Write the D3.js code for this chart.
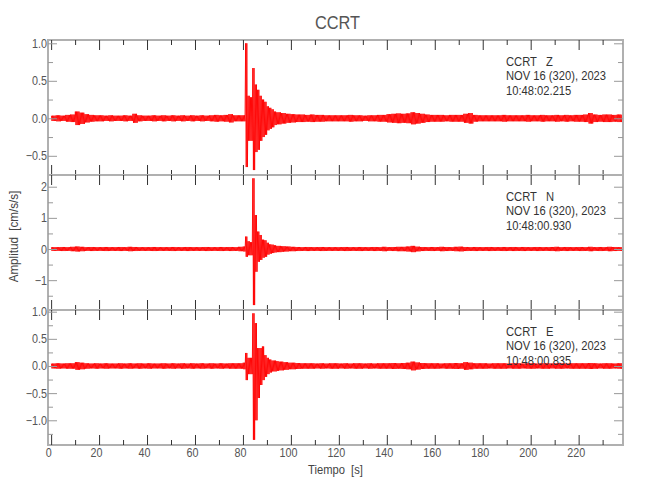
<!DOCTYPE html>
<html><head><meta charset="utf-8">
<script src="https://cdn.jsdelivr.net/npm/d3@7"></script>
<style>
body{margin:0;background:#fff}
svg{display:block}
text{font-family:"Liberation Sans",Arial,sans-serif}
</style>
</head><body>
<svg id="chart" width="650" height="500"></svg>
<script>
// ---------------- data ----------------
const title = "CCRT";
const station = "CCRT";
const xLabel = "Tiempo  [s]";
const yLabel = "Amplitud  [cm/s/s]";
const components = ["Z", "N", "E"];
const dateLabel = "NOV 16 (320), 2023";
const startTimes = ["10:48:02.215", "10:48:00.930", "10:48:00.835"];

const xDomain = [-1.3, 238.5];
const xMajorTicks = [0, 20, 40, 60, 80, 100, 120, 140, 160, 180, 200, 220];
const xMinorTicks = [10, 30, 50, 70, 90, 110, 130, 150, 170, 190, 210, 230];

const zDomain = [-0.756, 1.044];
const nDomain = [-1.958, 2.376];
const eDomain = [-1.455, 1.031];
const zMajor = [-0.5, 0, 0.5, 1.0];
const zMinor = [-0.75, -0.25, 0.25, 0.75];
const zLabels = ["\u22120.5", "0.0", "0.5", "1.0"];
const nMajor = [-1, 0, 1, 2];
const nMinor = [-1.5, -0.5, 0.5, 1.5];
const nLabels = ["\u22121", "0", "1", "2"];
const eMajor = [-1.0, -0.5, 0, 0.5, 1.0];
const eMinor = [-1.25, -0.75, -0.25, 0.25, 0.75];
const eLabels = ["\u22121.0", "\u22120.5", "0.0", "0.5", "1.0"];

// background noise envelope (peak amplitude), one value per 2-second bin, 0..240 s
const zNoise = [
 0.035,0.04,0.035,0.045,0.05,0.09,0.075,0.055,0.045,0.04,
 0.04,0.035,0.04,0.035,0.035,0.04,0.035,0.06,0.04,0.035,
 0.035,0.04,0.035,0.04,0.035,0.04,0.035,0.04,0.035,0.04,
 0.035,0.04,0.035,0.04,0.045,0.04,0.045,0.055,0.04,0.04,
 0.04,0.04,0.04,0.04,0.04,0.04,0.04,0.04,0.04,0.04,
 0.055,0.05,0.05,0.045,0.05,0.045,0.045,0.04,0.04,0.04,
 0.04,0.04,0.045,0.04,0.04,0.035,0.04,0.04,0.045,0.045,
 0.055,0.06,0.065,0.06,0.065,0.08,0.07,0.06,0.05,0.045,
 0.045,0.045,0.04,0.045,0.045,0.045,0.06,0.07,0.045,0.04,
 0.04,0.04,0.04,0.04,0.045,0.04,0.04,0.04,0.04,0.045,
 0.04,0.04,0.045,0.04,0.04,0.045,0.04,0.045,0.04,0.045,
 0.045,0.05,0.07,0.05,0.045,0.05,0.05,0.045,0.05,0.045];
const nNoise = [
 0.06,0.06,0.065,0.06,0.07,0.08,0.07,0.06,0.065,0.06,
 0.06,0.065,0.06,0.06,0.065,0.06,0.07,0.065,0.06,0.06,
 0.06,0.065,0.06,0.06,0.06,0.065,0.06,0.06,0.065,0.06,
 0.06,0.06,0.065,0.06,0.06,0.065,0.06,0.065,0.06,0.07,
 0.07,0.07,0.07,0.07,0.07,0.07,0.07,0.07,0.07,0.07,
 0.07,0.065,0.06,0.065,0.06,0.06,0.065,0.06,0.06,0.06,
 0.06,0.065,0.06,0.06,0.065,0.06,0.06,0.065,0.06,0.07,
 0.06,0.065,0.07,0.07,0.08,0.1,0.075,0.065,0.06,0.065,
 0.06,0.07,0.065,0.06,0.07,0.075,0.065,0.06,0.065,0.06,
 0.06,0.065,0.06,0.06,0.065,0.06,0.065,0.06,0.065,0.06,
 0.06,0.065,0.06,0.06,0.065,0.07,0.06,0.065,0.06,0.06,
 0.065,0.06,0.07,0.06,0.065,0.06,0.07,0.065,0.06,0.06];
const eNoise = [
 0.045,0.05,0.045,0.05,0.05,0.07,0.06,0.05,0.045,0.05,
 0.045,0.05,0.045,0.045,0.05,0.045,0.05,0.045,0.05,0.045,
 0.05,0.045,0.045,0.05,0.045,0.05,0.045,0.05,0.045,0.05,
 0.045,0.05,0.045,0.05,0.045,0.05,0.045,0.05,0.05,0.05,
 0.05,0.05,0.05,0.05,0.05,0.05,0.05,0.05,0.05,0.05,
 0.06,0.055,0.05,0.05,0.05,0.045,0.05,0.045,0.05,0.05,
 0.045,0.05,0.045,0.05,0.05,0.045,0.05,0.045,0.05,0.05,
 0.05,0.055,0.05,0.055,0.06,0.08,0.065,0.055,0.05,0.05,
 0.05,0.045,0.05,0.05,0.055,0.05,0.07,0.06,0.05,0.05,
 0.05,0.045,0.05,0.05,0.05,0.045,0.05,0.05,0.045,0.05,
 0.05,0.045,0.05,0.05,0.045,0.05,0.05,0.045,0.05,0.05,
 0.05,0.05,0.055,0.05,0.045,0.05,0.05,0.045,0.05,0.05];

// earthquake arrival, one value per second from t = 80 s (positive peak / negative peak size)
const eventStart = 80;
const zUp = [0.04,1.0,0.3,0.28,0.67,0.45,0.38,0.3,0.25,0.22,0.16,0.14,0.12,0.09,0.08,0.08,0.07,0.07,0.06,0.06];
const zDn = [0.04,0.65,0.3,0.3,0.69,0.45,0.42,0.3,0.25,0.22,0.16,0.14,0.12,0.09,0.08,0.08,0.07,0.07,0.06,0.06];
const nUp = [0.08,0.4,0.25,0.22,2.27,1.09,0.56,0.45,0.3,0.28,0.2,0.15,0.14,0.12,0.1,0.1,0.09,0.09,0.08,0.08];
const nDn = [0.08,0.25,0.2,0.2,1.8,0.73,0.41,0.35,0.28,0.25,0.18,0.15,0.13,0.11,0.1,0.1,0.09,0.08,0.08,0.07];
const eUp = [0.06,0.24,0.15,0.15,0.97,0.79,0.33,0.33,0.36,0.2,0.15,0.12,0.1,0.1,0.09,0.08,0.08,0.07,0.07,0.06];
const eDn = [0.06,0.26,0.15,0.15,1.36,1.0,0.59,0.35,0.26,0.2,0.15,0.12,0.1,0.1,0.09,0.08,0.08,0.07,0.07,0.06];

// ---------------- drawing ----------------
const svg = d3.select("#chart");
const L = 48, R = 623, PH = 135;
const tops = [40, 175, 310];
const condenseF = 0.86;
function condense(sel, f) {
  sel.each(function () {
    const w = this.getComputedTextLength();
    if (w > 0) d3.select(this).attr("textLength", w * f).attr("lengthAdjust", "spacingAndGlyphs");
  });
}

const x = d3.scaleLinear().domain(xDomain).range([L, R]);

const panels = [
  {domain: zDomain, major: zMajor, minor: zMinor, labels: zLabels, noise: zNoise, up: zUp, dn: zDn},
  {domain: nDomain, major: nMajor, minor: nMinor, labels: nLabels, noise: nNoise, up: nUp, dn: nDn},
  {domain: eDomain, major: eMajor, minor: eMinor, labels: eLabels, noise: eNoise, up: eUp, dn: eDn}
];

panels.forEach((p, i) => {
  const top = tops[i], bot = top + PH;
  const y = d3.scaleLinear().domain(p.domain).range([bot, top]);

  // waveform: zig-zag between the positive and negative peak read for each second
  const pts = [];
  for (let s = 0; s <= 238; s++) {
    const ev = s - eventStart;
    const inEv = ev >= 0 && ev < p.up.length;
    const a = inEv ? p.up[ev] : p.noise[Math.floor(s / 2)];
    const b = inEv ? p.dn[ev] : p.noise[Math.floor(s / 2)];
    const offs = [0.12, 0.37, 0.62, 0.87];
    offs.forEach((o, k) => {
      const t = Math.min(s + o, xDomain[1]);
      pts.push([t, k % 2 === 0 ? a : -b]);
    });
  }
  svg.append("path")
    .datum(pts)
    .attr("fill", "none")
    .attr("stroke", "#ff0000")
    .attr("stroke-width", 0.9)
    .attr("stroke-linejoin", "bevel")
    .attr("d", d3.line().x(d => x(d[0])).y(d => y(d[1])));

  // frame
  svg.append("rect")
    .attr("x", L).attr("y", top).attr("width", R - L).attr("height", PH)
    .attr("fill", "none").attr("stroke", "#b0b0b0").attr("stroke-width", 2);

  // x ticks (inward, top & bottom)
  const xt = (axisFn, yPos, vals, size) => {
    const g = svg.append("g").attr("transform", `translate(0,${yPos})`)
      .call(axisFn(x).tickValues(vals).tickSize(size).tickFormat(""));
    g.select(".domain").remove();
    g.selectAll("line").attr("stroke", "#333");
  };
  xt(d3.axisTop, bot, xMajorTicks, 10);
  xt(d3.axisTop, bot, xMinorTicks, 5);
  xt(d3.axisBottom, top, xMajorTicks, 10);
  xt(d3.axisBottom, top, xMinorTicks, 5);

  // y ticks left with labels
  const gl = svg.append("g").attr("transform", `translate(${L},0)`)
    .call(d3.axisLeft(y).tickValues(p.major).tickSizeInner(-9).tickSizeOuter(0).tickPadding(1)
      .tickFormat((d, k) => p.labels[k]));
  gl.select(".domain").remove();
  gl.selectAll("line").attr("stroke", "#999");
  gl.selectAll("text").attr("fill", "#555").attr("font-size", 12.5).attr("font-family", null);
  condense(gl.selectAll("text"), condenseF);
  const glm = svg.append("g").attr("transform", `translate(${L},0)`)
    .call(d3.axisRight(y).tickValues(p.minor).tickSize(5).tickFormat(""));
  glm.select(".domain").remove();
  glm.selectAll("line").attr("stroke", "#999");
  // y ticks right
  const gr = svg.append("g").attr("transform", `translate(${R},0)`)
    .call(d3.axisLeft(y).tickValues(p.major).tickSize(9).tickFormat(""));
  gr.select(".domain").remove();
  gr.selectAll("line").attr("stroke", "#999");
  const grm = svg.append("g").attr("transform", `translate(${R},0)`)
    .call(d3.axisLeft(y).tickValues(p.minor).tickSize(5).tickFormat(""));
  grm.select(".domain").remove();
  grm.selectAll("line").attr("stroke", "#999");

  // annotation
  const lines = [station + "   " + components[i], dateLabel, startTimes[i]];
  const ann = svg.append("g").selectAll("text").data(lines).join("text")
    .attr("x", 506).attr("y", (d, k) => top + 25.5 + k * 14.5)
    .attr("fill", "#333").attr("font-size", 13)
    .attr("xml:space", "preserve").style("white-space", "pre")
    .text(d => d);
  condense(ann, condenseF);

  // x tick labels on the bottom panel
  if (i === panels.length - 1) {
    const gx = svg.append("g").attr("transform", `translate(0,${bot})`)
      .call(d3.axisBottom(x).tickValues(xMajorTicks).tickSize(0).tickPadding(3));
    gx.select(".domain").remove();
    gx.selectAll("text").attr("fill", "#555").attr("font-size", 12.5).attr("font-family", null).attr("dx", -3);
    condense(gx.selectAll("text"), condenseF);
  }
});

// title and axis titles
const t1 = svg.append("text").attr("x", (L + R) / 2 + 2).attr("y", 29).attr("text-anchor", "middle")
  .attr("fill", "#555").attr("font-size", 19).text(title);
condense(t1, condenseF);
const t2 = svg.append("text").attr("x", (L + R) / 2).attr("y", 474).attr("text-anchor", "middle")
  .attr("fill", "#444").attr("font-size", 13)
  .attr("xml:space", "preserve").style("white-space", "pre").text(xLabel);
condense(t2, condenseF);
const t3 = svg.append("text").attr("transform", `translate(18,${(tops[0] + tops[2] + PH) / 2 - 6}) rotate(-90)`)
  .attr("text-anchor", "middle").attr("fill", "#444").attr("font-size", 13.5)
  .attr("xml:space", "preserve").style("white-space", "pre").text(yLabel);
condense(t3, condenseF);
</script>
</body></html>
